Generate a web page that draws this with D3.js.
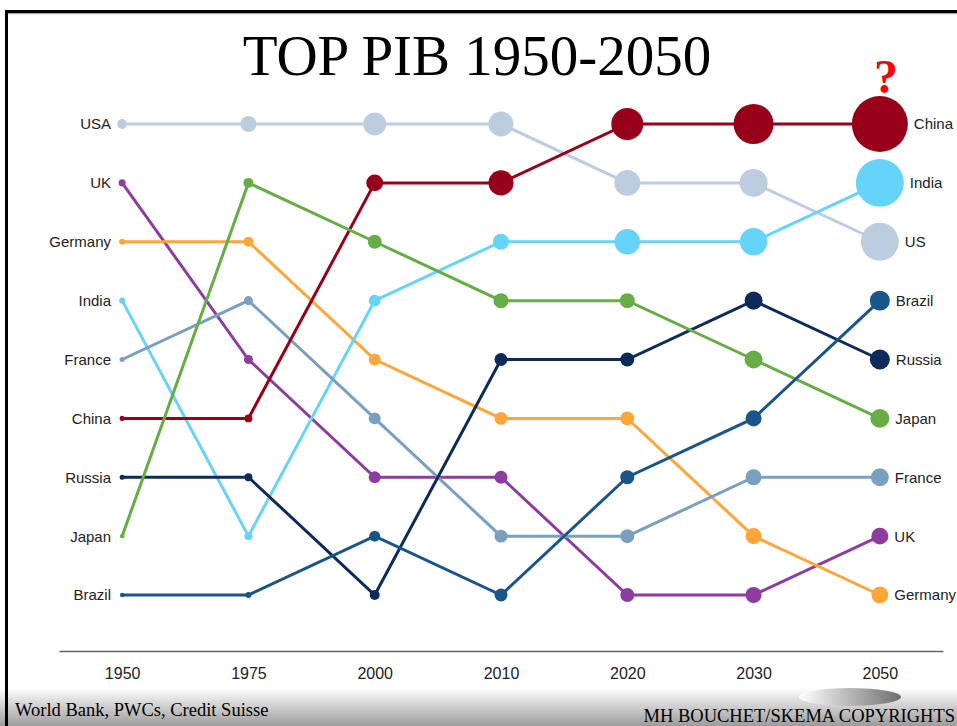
<!DOCTYPE html>
<html><head><meta charset="utf-8">
<script src="https://cdn.jsdelivr.net/npm/d3@7"></script>
<style>body{margin:0;background:#fff;} svg{display:block;}</style>
</head><body>
<script>
// ---- data ----
const years = ["1950","1975","2000","2010","2020","2030","2050"];
const countries = ["USA","UK","Germany","India","France","China","Russia","Japan","Brazil"];
const endNames  = ["US","UK","Germany","India","France","China","Russia","Japan","Brazil"];
const colors    = ["#bccde0","#8d3d9d","#fea63a","#66d4f9","#7aa0c0","#980019","#0c2b5b","#66ad45","#19558a"];
// rank (1 = largest GDP) per year
const rankUSA     = [1,1,1,1,2,2,3];
const rankUK      = [2,5,7,7,9,9,8];
const rankGermany = [3,3,5,6,6,8,9];
const rankIndia   = [4,8,4,3,3,3,2];
const rankFrance  = [5,4,6,8,8,7,7];
const rankChina   = [6,6,2,2,1,1,1];
const rankRussia  = [7,7,9,5,5,4,5];
const rankJapan   = [8,2,3,4,4,5,6];
const rankBrazil  = [9,9,8,9,7,6,4];
// relative GDP (bubble size) per year
const gdpUSA     = [1.9,4.9,10.1,12,12.9,15,27.6];
const gdpUK      = [0.94,1.55,2.75,3.23,3.75,4.9,5.5];
const gdpGermany = [0.69,1.91,2.75,3.23,3.75,4.9,5.5];
const gdpIndia   = [0.69,1.22,2.75,4.9,12.5,14.5,44];
const gdpFrance  = [0.48,1.55,2.75,3.23,3.75,4.9,6.2];
const gdpChina   = [0.48,1.22,5.5,12,19.6,30.6,60];
const gdpRussia  = [0.48,1.22,1.91,3.23,3.75,6.2,7.65];
const gdpJapan   = [0.31,1.91,3.75,4.3,4.3,6.2,6.9];
const gdpBrazil  = [0.31,0.69,2.31,3.23,3.75,4.9,7.65];

const ranks = [rankUSA,rankUK,rankGermany,rankIndia,rankFrance,rankChina,rankRussia,rankJapan,rankBrazil];
const gdps  = [gdpUSA,gdpUK,gdpGermany,gdpIndia,gdpFrance,gdpChina,gdpRussia,gdpJapan,gdpBrazil];

const series = countries.map((c,i)=>({
  name:c, endName:endNames[i], color:colors[i],
  pts: years.map((y,j)=>({year:y, rank:ranks[i][j], gdp:gdps[i][j]}))
}));

// ---- drawing ----
const W=957, H=726;
const svg = d3.select("body").append("svg").attr("width",W).attr("height",H);
const defs = svg.append("defs");
const g1 = defs.append("linearGradient").attr("id","foot").attr("x1",0).attr("y1",0).attr("x2",0).attr("y2",1);
g1.append("stop").attr("offset","0%").attr("stop-color","#ffffff");
g1.append("stop").attr("offset","100%").attr("stop-color","#9c9c9c");
const g2 = defs.append("linearGradient").attr("id","ell").attr("x1",0).attr("y1",0).attr("x2",1).attr("y2",0);
g2.append("stop").attr("offset","0%").attr("stop-color","#ffffff");
g2.append("stop").attr("offset","100%").attr("stop-color","#6e6e6e");

// footer band
svg.append("rect").attr("x",0).attr("y",688).attr("width",W).attr("height",H-688).attr("fill","url(#foot)");
svg.append("ellipse").attr("cx",850).attr("cy",697).attr("rx",51).attr("ry",9).attr("fill","url(#ell)");

// frame
svg.append("line").attr("x1",5).attr("x2",W).attr("y1",13.5).attr("y2",13.5).attr("stroke","#aaa").attr("stroke-width",1.5);
svg.append("line").attr("x1",5).attr("x2",W).attr("y1",11.5).attr("y2",11.5).attr("stroke","#000").attr("stroke-width",3);
svg.append("line").attr("x1",6.5).attr("x2",6.5).attr("y1",10).attr("y2",H).attr("stroke","#000").attr("stroke-width",3);

// title
svg.append("text").attr("x",477).attr("y",75).attr("text-anchor","middle")
  .attr("font-family","'Liberation Serif','Times New Roman',serif").attr("font-size",57).attr("fill","#000")
  .text("TOP PIB 1950-2050");

const x = d3.scalePoint().domain(years).range([59,943]).padding(0.5);
const y = d3.scaleLinear().domain([1,9]).range([124,595]);
const r = d3.scaleSqrt().domain([0,60]).range([0,28]);

// axis
const axis = svg.append("g").attr("transform","translate(0,651)")
  .call(d3.axisBottom(x).tickSize(0).tickSizeOuter(0).tickPadding(17));
axis.select(".domain").attr("stroke","#666").attr("stroke-width",1.5);
axis.selectAll("text").attr("font-family","'Liberation Sans',Arial,sans-serif").attr("font-size",16).attr("fill","#222");

// question mark
svg.append("text").attr("x",886).attr("y",93).attr("text-anchor","middle")
  .attr("font-family","'Liberation Serif','Times New Roman',serif").attr("font-weight","bold")
  .attr("font-size",48).attr("fill","#f00").text("?");

const line = d3.line().x(d=>x(d.year)).y(d=>y(d.rank));
svg.append("g").selectAll("path").data(series).join("path")
  .attr("d",d=>line(d.pts)).attr("fill","none").attr("stroke",d=>d.color).attr("stroke-width",3);

svg.append("g").selectAll("g").data(series).join("g")
  .attr("fill",d=>d.color)
  .selectAll("circle").data(d=>d.pts).join("circle")
  .attr("cx",d=>x(d.year)).attr("cy",d=>y(d.rank)).attr("r",d=>Math.max(2.2,r(d.gdp)));

const lab = {"font-family":"'Liberation Sans',Arial,sans-serif","font-size":15,"fill":"#222"};
const left = svg.append("g").selectAll("text").data(series).join("text")
  .attr("x",111).attr("y",d=>y(d.pts[0].rank)).attr("dy","0.36em").attr("text-anchor","end").text(d=>d.name);
const right = svg.append("g").selectAll("text").data(series).join("text")
  .attr("x",d=>x(years[years.length-1]) + r(d.pts[d.pts.length-1].gdp) + 6)
  .attr("y",d=>y(d.pts[d.pts.length-1].rank)).attr("dy","0.36em").text(d=>d.endName);
[left,right].forEach(s=>Object.entries(lab).forEach(([k,v])=>s.attr(k,v)));

// footers
svg.append("text").attr("x",15).attr("y",716).attr("font-family","'Liberation Serif','Times New Roman',serif")
  .attr("font-size",18.5).attr("fill","#000").text("World Bank, PWCs, Credit Suisse");
svg.append("text").attr("x",955).attr("y",722).attr("text-anchor","end").attr("font-family","'Liberation Serif','Times New Roman',serif")
  .attr("font-size",18.5).attr("fill","#000").text("MH BOUCHET/SKEMA COPYRIGHTS");
</script>
</body></html>
